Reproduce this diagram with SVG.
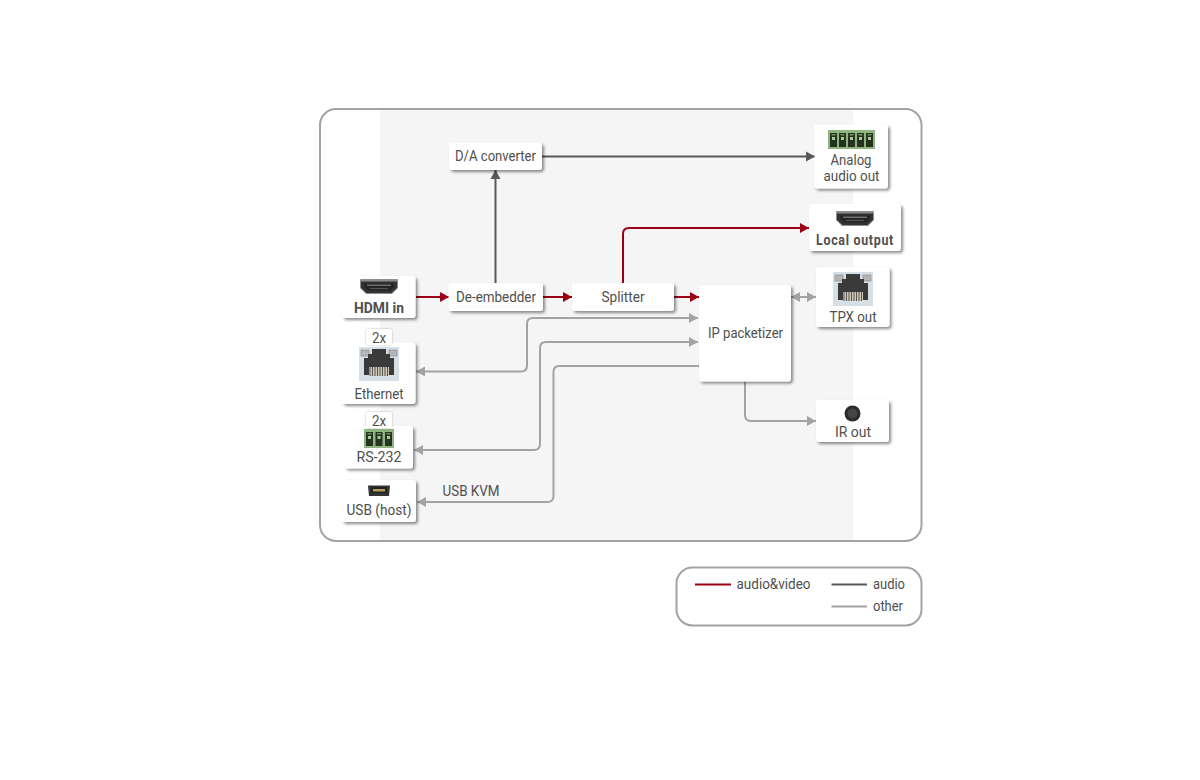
<svg xmlns="http://www.w3.org/2000/svg" xmlns:xlink="http://www.w3.org/1999/xlink" width="1200" height="780" viewBox="0 0 1200 780">
<style>
text{font-family:"Roboto","Liberation Sans",sans-serif;font-size:15.5px;fill:#4f4f4f;text-anchor:middle}
.b{font-weight:700}
.box{fill:#fff;filter:url(#sh)}
.tag{fill:#fff;filter:url(#sh2)}
.frame{fill:none;stroke:#a3a3a3;stroke-width:2}
.c{fill:none;stroke-width:2}
.av{stroke:#9b0014}.au{stroke:#585858}.ot{stroke:#a3a3a3}
.end-av{marker-end:url(#mav)}.end-au{marker-end:url(#mau)}.end-ot{marker-end:url(#mot)}.start-ot{marker-start:url(#mots)}
</style>
<defs>
<filter id="sh" x="-20%" y="-30%" width="145%" height="165%"><feDropShadow dx="2" dy="2" stdDeviation="1.8" flood-color="#000" flood-opacity=".45"/></filter>
<filter id="sh2" x="-30%" y="-40%" width="160%" height="180%"><feDropShadow dx="0" dy="0" stdDeviation="1" flood-color="#000" flood-opacity=".28"/></filter>
<marker id="mav" markerUnits="userSpaceOnUse" markerWidth="12" markerHeight="12" refX="9" refY="6" orient="auto"><path d="M0 1 9 6 0 11z" fill="#9b0014"/></marker>
<marker id="mau" markerUnits="userSpaceOnUse" markerWidth="12" markerHeight="12" refX="9" refY="6" orient="auto"><path d="M0 1 9 6 0 11z" fill="#585858"/></marker>
<marker id="mot" markerUnits="userSpaceOnUse" markerWidth="12" markerHeight="12" refX="9" refY="6" orient="auto"><path d="M0 1 9 6 0 11z" fill="#a3a3a3"/></marker>
<marker id="mots" markerUnits="userSpaceOnUse" markerWidth="12" markerHeight="12" refX="1" refY="6" orient="auto"><path d="M10 1 1 6 10 11z" fill="#a3a3a3"/></marker>
<g id="hdmi"><path d="M0 1Q0 0 1 0H37Q38 0 38 1V9L32 15H6L0 9Z" fill="#8d8d8d"/><path d="M1 2.500H37V9L31.500 14H6.500L1 9Z" fill="#333"/><path d="M4 4.500H34V8L30 11.500H8L4 8Z" fill="#252525"/><rect x="7" y="5.500" width="24" height="1.500" fill="#6e6e6e"/><rect x="10" y="9" width="18" height="1" fill="#555"/></g>
<g id="rj"><rect width="40" height="34" fill="#d6dee6"/><rect x="2" y="3" width="8" height="6" fill="#b5b5b5" stroke="#888" stroke-width=".6"/><rect x="30" y="3" width="8" height="6" fill="#b5b5b5" stroke="#888" stroke-width=".6"/><path d="M13 2H27V7H31V11H35V28H5V11H9V7H13Z" fill="#3a3a3a"/><path d="M10 20H30V29H10Z" fill="#d2c9b6"/><path d="M11 20V29M13.500 20V29M16 20V29M18.500 20V29M21 20V29M23.500 20V29M26 20V29M28.500 20V29" stroke="#555" stroke-width="1"/></g>
<g id="pin"><rect width="7" height="14" fill="#25331f"/><rect x="2" y="4" width="3" height="3" fill="#a9c79a"/><rect x="1.500" y="1" width="4" height="1.500" fill="#6f8f64"/></g>
</defs>

<rect x="380" y="110" width="473" height="430" fill="#f5f5f5"/>
<rect class="frame" x="320" y="109" width="601.500" height="432" rx="16"/>

<g id="connectors">
<path class="c av end-av" d="M416 297H449"/>
<path class="c av end-av" d="M543 297H572"/>
<path class="c av end-av" d="M674 297H699"/>
<path class="c av end-av" d="M623 283V234Q623 228 629 228H809"/>
<path class="c au end-au" d="M495.500 283V170"/>
<path class="c au end-au" d="M542 156.500H815"/>
<path class="c ot end-ot start-ot" d="M791 297H816"/>
<path class="c ot end-ot" d="M745 381V415Q745 421 751 421H816"/>
<path class="c ot end-ot start-ot" d="M416 371.500H521Q527 371.500 527 365.500V324Q527 318 533 318H698"/>
<path class="c ot end-ot start-ot" d="M414 450H534Q540 450 540 444V348Q540 342 546 342H698"/>
<path class="c ot end-ot" d="M699 366H559.500Q553.500 366 553.500 372V496Q553.500 502 547.500 502H417"/>
</g>

<g id="da"><rect class="box" x="449" y="142.500" width="93" height="27.500" rx="3"/><text x="495.500" y="161" textLength="81" lengthAdjust="spacingAndGlyphs">D/A converter</text></g>
<g id="deemb"><rect class="box" x="448.500" y="283" width="94.500" height="28" rx="3"/><text x="496" y="302" textLength="80" lengthAdjust="spacingAndGlyphs">De-embedder</text></g>
<g id="splitter"><rect class="box" x="572" y="283" width="102" height="28" rx="3"/><text x="623" y="302" textLength="43" lengthAdjust="spacingAndGlyphs">Splitter</text></g>
<g id="ip"><rect class="box" x="699" y="285" width="92" height="96.500" rx="3"/><text x="745.500" y="338" textLength="75" lengthAdjust="spacingAndGlyphs">IP packetizer</text></g>

<g id="hdmiin"><rect class="box" x="342" y="276" width="73.500" height="42" rx="3"/><use xlink:href="#hdmi" href="#hdmi" x="360" y="279"/><text class="b" x="379" y="313" textLength="50" lengthAdjust="spacingAndGlyphs">HDMI in</text></g>

<g id="ethernet"><rect class="box" x="342" y="342.500" width="73.500" height="61.500" rx="3"/><use href="#rj" x="359" y="347"/><text x="379" y="399" textLength="49" lengthAdjust="spacingAndGlyphs">Ethernet</text><rect class="tag" x="366" y="329" width="26" height="16" rx="3"/><text x="379" y="343" textLength="14" lengthAdjust="spacingAndGlyphs">2x</text></g>

<g id="rs232"><rect class="box" x="344.500" y="426" width="68.500" height="42.500" rx="3"/><rect x="364" y="429" width="30" height="19" fill="#8fb480"/><use href="#pin" x="366" y="432"/><use href="#pin" x="375.500" y="432"/><use href="#pin" x="385" y="432"/><text x="379" y="462" textLength="45" lengthAdjust="spacingAndGlyphs">RS-232</text><rect class="tag" x="366" y="412" width="26" height="16" rx="3"/><text x="379" y="426" textLength="14" lengthAdjust="spacingAndGlyphs">2x</text></g>

<g id="usb"><rect class="box" x="342" y="480" width="74" height="42" rx="3"/><path d="M368 485.500H390L389 496H369Z" fill="#333"/><path d="M371 487H387V493H371Z" fill="#222"/><rect x="373" y="489" width="12" height="2.500" fill="#b89a5c"/><text x="379" y="515" textLength="65" lengthAdjust="spacingAndGlyphs">USB (host)</text></g>

<g id="analog"><rect class="box" x="814.500" y="124.500" width="73.500" height="64" rx="3"/><rect x="828" y="130" width="47" height="19" fill="#8fb480"/><use href="#pin" x="830" y="133"/><use href="#pin" x="839" y="133"/><use href="#pin" x="848" y="133"/><use href="#pin" x="857" y="133"/><use href="#pin" x="866" y="133"/><text x="851" y="165" textLength="41" lengthAdjust="spacingAndGlyphs">Analog</text><text x="851.500" y="181" textLength="56" lengthAdjust="spacingAndGlyphs">audio out</text></g>

<g id="local"><rect class="box" x="809" y="204" width="92" height="47" rx="3"/><use href="#hdmi" x="836" y="211"/><text class="b" transform="translate(855 245) scale(.8 1)" letter-spacing=".9">Local output</text></g>

<g id="tpx"><rect class="box" x="816" y="267" width="73.500" height="60" rx="3"/><use href="#rj" x="833" y="272"/><text x="853" y="322" textLength="47" lengthAdjust="spacingAndGlyphs">TPX out</text></g>

<g id="ir"><rect class="box" x="816" y="400" width="73" height="42" rx="3"/><circle cx="852.500" cy="413.500" r="8" fill="#2b2b2b"/><circle cx="852.500" cy="413.500" r="5" fill="#444"/><text x="853" y="437" textLength="36" lengthAdjust="spacingAndGlyphs">IR out</text></g>

<text x="471" y="496" textLength="57" lengthAdjust="spacingAndGlyphs">USB KVM</text>

<g id="legend">
<rect class="frame" x="676.500" y="567.500" width="245" height="58" rx="16"/>
<path class="c av" d="M695 584.500H731"/><text x="773.500" y="589" textLength="74" lengthAdjust="spacingAndGlyphs">audio&amp;video</text>
<path class="c au" d="M831.500 584.500H867"/><text x="889" y="589" textLength="32" lengthAdjust="spacingAndGlyphs">audio</text>
<path class="c ot" d="M831.500 606.500H867"/><text x="888" y="611" textLength="30" lengthAdjust="spacingAndGlyphs">other</text>
</g>
</svg>
